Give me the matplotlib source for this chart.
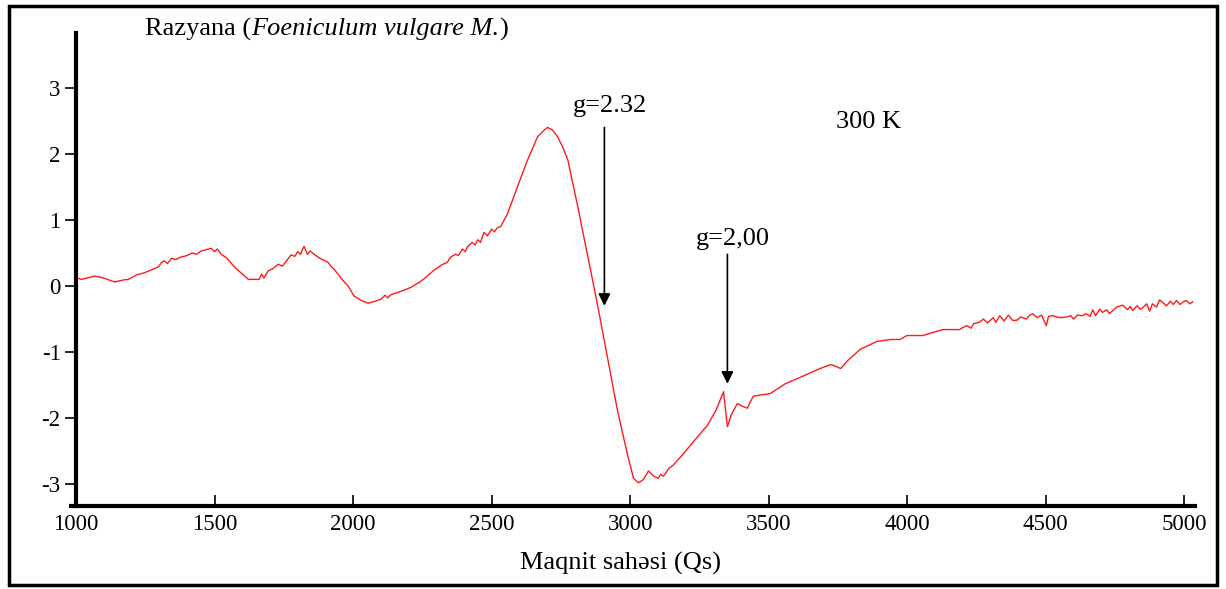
import matplotlib
matplotlib.use("Agg")
import matplotlib.pyplot as plt
from matplotlib.patches import Rectangle

# field (Qs) and signal values
field = [1005, 1020, 1067, 1100, 1139, 1170, 1189, 1220, 1247, 1270, 1297, 1310, 1319, 1330, 1345,
         1360, 1380, 1400, 1420, 1435, 1452, 1470, 1488, 1500, 1510, 1524, 1545, 1571, 1595, 1622,
         1661, 1670, 1678, 1694, 1710, 1730, 1745, 1776, 1790, 1800, 1810, 1823, 1835, 1845, 1859,
         1880, 1909, 1920, 1930, 1946, 1960, 1982, 2003, 2030, 2054, 2080, 2101, 2115, 2125, 2137,
         2160, 2180, 2209, 2240, 2260, 2292, 2320, 2340, 2353, 2370, 2380, 2395, 2405, 2414, 2430,
         2440, 2450, 2460, 2472, 2485, 2500, 2510, 2520, 2533, 2558, 2594, 2630, 2666, 2690, 2702,
         2720, 2738, 2757, 2775, 2811, 2847, 2883, 2919, 2955, 2991, 3012, 3030, 3048, 3066, 3085,
         3102, 3110, 3120, 3140, 3156, 3190, 3218, 3250, 3279, 3310, 3337, 3351, 3365, 3387, 3405,
         3423, 3444, 3470, 3505, 3560, 3621, 3685, 3724, 3745, 3760, 3785, 3830, 3890, 3940, 3974,
         3999, 4057, 4129, 4190, 4200, 4215, 4230, 4240, 4260, 4275, 4290, 4310, 4320, 4334, 4350,
         4365, 4380, 4395, 4410, 4430, 4440, 4452, 4470, 4485, 4502, 4510, 4524, 4550, 4575, 4590,
         4600, 4615, 4632, 4645, 4660, 4670, 4680, 4695, 4705, 4720, 4730, 4740, 4756, 4778, 4795,
         4805, 4814, 4830, 4840, 4850, 4864, 4875, 4885, 4900, 4911, 4925, 4936, 4950, 4960, 4972,
         4985, 5000, 5008, 5020, 5030]
signal = [0.12, 0.10, 0.15, 0.12, 0.06, 0.09, 0.10, 0.17, 0.20, 0.24, 0.29, 0.36, 0.38, 0.34, 0.42,
          0.40, 0.44, 0.46, 0.50, 0.48, 0.53, 0.55, 0.57, 0.52, 0.56, 0.48, 0.42, 0.29, 0.20, 0.10,
          0.10, 0.18, 0.12, 0.23, 0.26, 0.33, 0.30, 0.47, 0.45, 0.52, 0.48, 0.60, 0.48, 0.53, 0.48,
          0.42, 0.36, 0.30, 0.26, 0.18, 0.10, 0.00, -0.15, -0.22, -0.26, -0.23, -0.20, -0.14, -0.18, -0.13,
          -0.10, -0.07, -0.02, 0.06, 0.12, 0.24, 0.32, 0.36, 0.44, 0.48, 0.46, 0.56, 0.52, 0.60, 0.66,
          0.62, 0.70, 0.66, 0.81, 0.76, 0.86, 0.82, 0.88, 0.90, 1.10, 1.51, 1.91, 2.26, 2.36, 2.40,
          2.36, 2.26, 2.10, 1.91, 1.20, 0.45, -0.30, -1.10, -1.90, -2.56, -2.91, -2.98, -2.93, -2.80, -2.88,
          -2.91, -2.85, -2.88, -2.76, -2.71, -2.55, -2.41, -2.25, -2.11, -1.88, -1.60, -2.13, -1.95, -1.78, -1.82,
          -1.85, -1.67, -1.65, -1.63, -1.48, -1.37, -1.25, -1.19, -1.22, -1.25, -1.13, -0.96, -0.84, -0.81, -0.81,
          -0.75, -0.75, -0.66, -0.66, -0.63, -0.60, -0.64, -0.57, -0.55, -0.50, -0.56, -0.48, -0.55, -0.45, -0.53,
          -0.44, -0.52, -0.52, -0.47, -0.50, -0.45, -0.42, -0.48, -0.44, -0.60, -0.46, -0.45, -0.48, -0.47, -0.45,
          -0.50, -0.44, -0.45, -0.42, -0.46, -0.36, -0.45, -0.35, -0.40, -0.36, -0.42, -0.38, -0.32, -0.29, -0.36,
          -0.31, -0.37, -0.30, -0.35, -0.33, -0.27, -0.38, -0.27, -0.32, -0.21, -0.26, -0.30, -0.23, -0.28, -0.22,
          -0.28, -0.23, -0.22, -0.27, -0.24]

x_ticks = [1000, 1500, 2000, 2500, 3000, 3500, 4000, 4500, 5000]
y_ticks = [-3, -2, -1, 0, 1, 2, 3]

# g-factor markers: label, field, arrow top, arrow tip, label height
g_labels = ["g=2.32", "g=2,00"]
g_field = [2907, 3351]
g_top = [2.40, 0.48]
g_tip = [-0.30, -1.48]
g_label_y = [2.72, 0.71]

plt.rcParams['font.family'] = ['Liberation Serif', 'DejaVu Serif']
plt.rcParams['axes.unicode_minus'] = False

fig = plt.figure(figsize=(12.26, 5.89), dpi=100)
ax = fig.add_axes([0.062, 0.141, 0.913, 0.803])

ax.plot(field, signal, color='#ff1a1a', lw=1.0)

ax.set_xlim(1000, 5040)
ax.set_ylim(-3.33, 3.83)
ax.set_xticks(x_ticks)
ax.set_yticks(y_ticks)
ax.tick_params(axis='x', direction='in', length=8, width=1.2, labelsize=16.5, pad=6)
ax.tick_params(axis='y', direction='out', length=8, width=1.2, labelsize=16.5, pad=3)
for s in ['top', 'right']:
    ax.spines[s].set_visible(False)
ax.spines['left'].set_linewidth(3)
ax.spines['bottom'].set_linewidth(3)
ax.plot([975, 1000], [-3.33, -3.33], color='black', lw=3, clip_on=False, solid_capstyle='butt')

for lab, xf, yt, yb, yl in zip(g_labels, g_field, g_top, g_tip, g_label_y):
    ax.annotate('', xy=(xf, yb), xytext=(xf, yt),
                arrowprops=dict(arrowstyle='-|>', color='black', lw=1.2,
                                mutation_scale=18, shrinkA=0, shrinkB=0))
    ax.text(xf + 20, yl, lab, fontsize=19, ha='center', va='center')

ax.text(3860, 2.49, "300 K", fontsize=19, ha='center', va='center')

# title in three pieces so the species name is italic
t1 = fig.text(0.118, 0.95, "Razyana (", fontsize=19, ha='left', va='center')
t2 = fig.text(0, 0, "Foeniculum vulgare M.", fontsize=19, style='italic', ha='left', va='center')
t3 = fig.text(0, 0, ")", fontsize=19, ha='left', va='center')
fig.canvas.draw()
r = fig.canvas.get_renderer()
bb1 = t1.get_window_extent(r)
t2.set_position((bb1.x1 / fig.bbox.width, 0.95))
bb2 = t2.get_window_extent(r)
t3.set_position((bb2.x1 / fig.bbox.width, 0.95))

fig.text(0.506, 0.044, "Maqnit sahəsi (Qs)", fontsize=19, ha='center', va='center')

fig.patches.append(Rectangle((0.007, 0.007), 0.986, 0.983, transform=fig.transFigure,
                             fill=False, edgecolor='black', lw=2.5))

fig.savefig("out.png", dpi=100)
